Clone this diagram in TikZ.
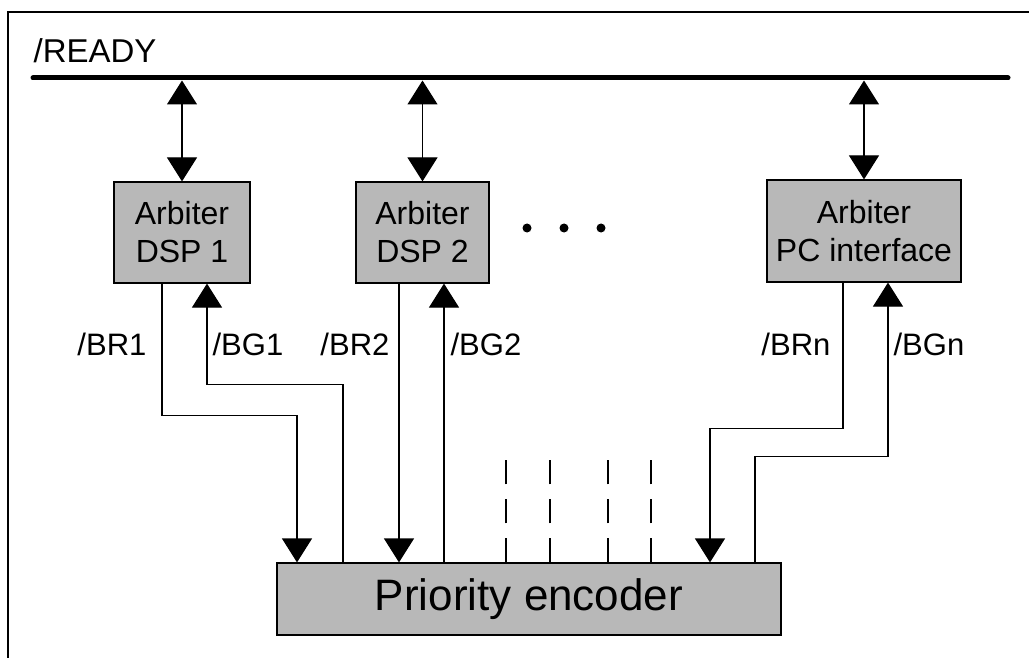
\documentclass[tikz,border=0pt]{standalone}
\usepackage{fontspec}
\setmainfont{Liberation Sans}
\usetikzlibrary{arrows.meta}
\definecolor{dither}{rgb}{0.72,0.72,0.72}
\newcommand{\fsz}[1]{\fontsize{#1}{#1}\selectfont}

\begin{document}
\begin{tikzpicture}[x=1pt,y=-1pt,line width=1.2pt,
  box/.style={draw,fill=dither,inner sep=0pt,align=center},
  lbl/.style={font=\fsz{31}},
  tip/.style={-{Triangle[width=30pt,length=24pt]}},
  bidir/.style={{Triangle[width=30pt,length=24pt]}-{Triangle[width=30pt,length=24pt]}},
  dot/.style={circle,fill,inner sep=0pt,minimum size=9pt}]
\useasboundingbox (0,0) rectangle (1029,658);

% frame
\draw[line width=1.5pt] (8,658) -- (8,12) -- (1029,12);

% ready line
\node[lbl,font=\fsz{33},anchor=base west,inner sep=0pt] (ready) at (33,63) {/READY};
\coordinate (busL) at (33,78);
\coordinate (busR) at (1008,78);
\coordinate (rail) at (0,80.5);
\draw[line width=5pt,line cap=round] (busL) -- (busR);

% arbiters
\node[box,font=\fsz{32},minimum width=136pt,minimum height=101pt] (arb1) at (182,232.5)
  {Arbiter\\[6pt]DSP 1};
\node[box,font=\fsz{32},minimum width=133pt,minimum height=101pt] (arb2) at (422.5,232.5)
  {Arbiter\\[6pt]DSP 2};
\node[box,font=\fsz{32},minimum width=194pt,minimum height=102pt] (arbn) at (864,231)
  {Arbiter\\[6pt]PC interface};
\foreach \x [count=\i] in {527,564,601}
  \node[dot] (dot\i) at (\x,228) {};

\draw[bidir] (arb1.north |- rail) -- (arb1.north);
\draw[bidir] (arb2.north |- rail) -- (arb2.north);
\draw[bidir] (arbn.north |- rail) -- (arbn.north);

% encoder
\node[box,font=\fsz{44},minimum width=504pt,minimum height=72pt] (enc) at (529,599)
  {Priority encoder};

% request / grant lines
\draw[tip] ([xshift=-20pt]arb1.south) -- ++(0,132) -| ([xshift=-232pt]enc.north);
\draw[tip] ([xshift=-186pt]enc.north) -- ++(0,-178) -| ([xshift=25pt]arb1.south);
\draw[tip] ([xshift=-23.5pt]arb2.south) -- ([xshift=-23.5pt]arb2.south |- enc.north);
\draw[tip] ([xshift=21.5pt]arb2.south |- enc.north) -- ([xshift=21.5pt]arb2.south);
\draw[tip] ([xshift=-21pt]arbn.south) -- ++(0,146) -| ([xshift=181pt]enc.north);
\draw[tip] ([xshift=226pt]enc.north) -- ++(0,-106) -| ([xshift=24pt]arbn.south);

\foreach \d in {-23,21,79,122}
  \draw[dash pattern=on 24pt off 15pt] ([xshift=\d pt]enc.north) -- ++(0,-103);

\node[lbl,anchor=base east,inner sep=0pt] (br1) at (147,355) {/BR1};
\node[lbl,anchor=base west,inner sep=0pt] (bg1) at (212,355) {/BG1};
\node[lbl,anchor=base east,inner sep=0pt] (br2) at (390,355) {/BR2};
\node[lbl,anchor=base west,inner sep=0pt] (bg2) at (450,355) {/BG2};
\node[lbl,anchor=base east,inner sep=0pt] (brn) at (831,355) {/BRn};
\node[lbl,anchor=base west,inner sep=0pt] (bgn) at (893,355) {/BGn};
\end{tikzpicture}
\end{document}
